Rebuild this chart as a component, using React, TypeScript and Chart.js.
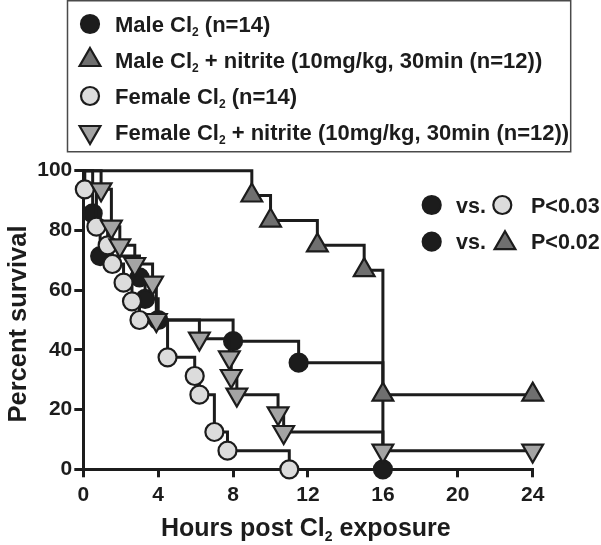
import React, { useEffect, useRef } from 'react';
import { Chart, registerables } from 'chart.js';

Chart.register(...registerables);

// ---------- data ----------
const xTickValues = [0, 4, 8, 12, 16, 20, 24];
const yTickValues = [0, 20, 40, 60, 80, 100];

const maleCl2Hours = [0, 0.5, 0.9, 3.0, 3.3, 4.0, 8.0, 11.5, 16];
const maleCl2Survival = [100, 85.7, 71.4, 64.3, 57.1, 50, 42.9, 35.7, 0];

const maleNitriteHours = [0, 9, 10, 12.5, 15, 16, 24];
const maleNitriteSurvival = [100, 91.7, 83.3, 75, 66.7, 25, 25];

const femaleCl2Hours = [0, 0.08, 0.7, 1.3, 1.55, 2.15, 2.6, 3.0, 4.5, 5.95, 6.2, 7.0, 7.7, 11];
const femaleCl2Survival = [100, 93.75, 81.25, 75, 68.75, 62.5, 56.25, 50, 37.5, 31.25, 25, 12.5, 6.25, 0];

const femaleNitriteHours = [0, 0.95, 1.5, 1.95, 2.75, 3.7, 3.9, 6.2, 7.8, 7.9, 8.2, 10.4, 10.7, 16, 24];
const femaleNitriteSurvival = [100, 93.75, 81.25, 75, 68.75, 62.5, 50, 43.75, 37.5, 31.25, 25, 18.75, 12.5, 6.25, 6.25];

const seriesLabels = [
  'Male Cl₂ (n=14)',
  'Male Cl₂ + nitrite (10mg/kg, 30min (n=12))',
  'Female Cl₂ (n=14)',
  'Female Cl₂ + nitrite (10mg/kg, 30min (n=12))',
];
const pValueLabels = ['P<0.03', 'P<0.02'];
const xAxisTitle = 'Hours post Cl₂ exposure';
const yAxisTitle = 'Percent survival';

// ---------- styles ----------
const FONT = '"Liberation Sans", Arial, Helvetica, sans-serif';
const INK = '#1c1c1c';
const styles = [
  { fill: '#1c1c1c', shape: 'circle', rot: 0, r: 9 },
  { fill: '#6f6f6f', shape: 'triangle', rot: 0, r: 12 },
  { fill: '#dcdcdc', shape: 'circle', rot: 0, r: 9 },
  { fill: '#a4a4a4', shape: 'triangle', rot: 180, r: 12 },
];

function toPoints(xs: number[], ys: number[]) {
  return xs.map((x, i) => ({ x, y: ys[i] }));
}

function drawMarker(ctx: CanvasRenderingContext2D, idx: number, x: number, y: number) {
  const s = styles[idx];
  ctx.save();
  ctx.fillStyle = s.fill;
  ctx.strokeStyle = INK;
  ctx.lineWidth = 2.2;
  ctx.beginPath();
  if (s.shape === 'circle') {
    ctx.arc(x, y, s.r, 0, Math.PI * 2);
  } else {
    let rad = (s.rot * Math.PI) / 180;
    const r = s.r;
    ctx.moveTo(x + Math.sin(rad) * r, y - Math.cos(rad) * r);
    rad += (2 * Math.PI) / 3;
    ctx.lineTo(x + Math.sin(rad) * r, y - Math.cos(rad) * r);
    rad += (2 * Math.PI) / 3;
    ctx.lineTo(x + Math.sin(rad) * r, y - Math.cos(rad) * r);
    ctx.closePath();
  }
  ctx.fill();
  ctx.stroke();
  ctx.restore();
}

// text where '₂' is drawn as a small lowered "2"
function richParts(text: string) {
  const parts: { t: string; sub: boolean }[] = [];
  const segs = text.split('₂');
  segs.forEach((seg, i) => {
    if (seg) parts.push({ t: seg, sub: false });
    if (i < segs.length - 1) parts.push({ t: '2', sub: true });
  });
  return parts;
}
function richWidth(ctx: CanvasRenderingContext2D, text: string, size: number) {
  let w = 0;
  for (const p of richParts(text)) {
    ctx.font = `bold ${p.sub ? Math.round(size * 0.55) : size}px ${FONT}`;
    w += ctx.measureText(p.t).width;
  }
  return w;
}
function drawRich(ctx: CanvasRenderingContext2D, text: string, x: number, baseline: number, size: number) {
  let cx = x;
  ctx.textAlign = 'left';
  ctx.textBaseline = 'alphabetic';
  for (const p of richParts(text)) {
    ctx.font = `bold ${p.sub ? Math.round(size * 0.55) : size}px ${FONT}`;
    ctx.fillText(p.t, cx, p.sub ? baseline + size * 0.2 : baseline);
    cx += ctx.measureText(p.t).width;
  }
}

const decorPlugin = {
  id: 'decor',
  afterDraw(chart: any) {
    const ctx: CanvasRenderingContext2D = chart.ctx;
    ctx.save();
    ctx.fillStyle = INK;

    // legend box
    ctx.strokeStyle = '#4a4a4a';
    ctx.lineWidth = 1.5;
    ctx.strokeRect(67.5, 0.75, 503.2, 151);
    const rowY = [24, 60, 96, 132];
    seriesLabels.forEach((lab, i) => {
      drawMarker(ctx, i, 90, rowY[i]);
      ctx.fillStyle = INK;
      drawRich(ctx, lab, 115, rowY[i] + 8, 22);
    });

    // p-value annotations
    const annY = [205, 241.7];
    const compare = [2, 1];
    annY.forEach((y, i) => {
      drawMarker(ctx, 0, 431.7, y);
      ctx.fillStyle = INK;
      ctx.font = `bold 21.5px ${FONT}`;
      ctx.textAlign = 'left';
      ctx.textBaseline = 'alphabetic';
      ctx.fillText('vs.', 456, y + 7.5);
      drawMarker(ctx, compare[i], i === 0 ? 502.3 : 505, i === 0 ? y : y + 1.5);
      ctx.fillStyle = INK;
      ctx.font = `bold 21.5px ${FONT}`;
      ctx.fillText(pValueLabels[i], 531, y + 7.5);
    });

    // x axis title
    const w = richWidth(ctx, xAxisTitle, 25);
    ctx.fillStyle = INK;
    drawRich(ctx, xAxisTitle, 305.8 - w / 2, 535.5, 25);

    // y axis title
    ctx.save();
    ctx.translate(25.5, 324);
    ctx.rotate(-Math.PI / 2);
    ctx.font = `bold 25.5px ${FONT}`;
    ctx.textAlign = 'center';
    ctx.textBaseline = 'alphabetic';
    ctx.fillStyle = INK;
    ctx.fillText(yAxisTitle, 0, 0);
    ctx.restore();

    ctx.restore();
  },
};

function makeDataset(idx: number, xs: number[], ys: number[], order: number) {
  const s = styles[idx];
  return {
    label: seriesLabels[idx],
    data: toPoints(xs, ys),
    stepped: 'before' as const,
    borderColor: INK,
    borderWidth: 3,
    backgroundColor: s.fill,
    pointBackgroundColor: s.fill,
    pointBorderColor: INK,
    pointBorderWidth: 2.2,
    pointStyle: s.shape,
    pointRotation: s.rot,
    pointRadius: xs.map((_, i) => (i === 0 ? 0 : s.r)),
    pointHoverRadius: xs.map((_, i) => (i === 0 ? 0 : s.r)),
    fill: false,
    clip: false as any,
    order,
  };
}

export default function App() {
  const ref = useRef<HTMLCanvasElement>(null);
  useEffect(() => {
    if (!ref.current) return;
    const chart = new Chart(ref.current, {
      type: 'line',
      data: {
        datasets: [
          makeDataset(0, maleCl2Hours, maleCl2Survival, 4),
          makeDataset(1, maleNitriteHours, maleNitriteSurvival, 3),
          makeDataset(2, femaleCl2Hours, femaleCl2Survival, 2),
          makeDataset(3, femaleNitriteHours, femaleNitriteSurvival, 1),
        ] as any,
      },
      options: {
        animation: false,
        responsive: false,
        devicePixelRatio: 1,
        layout: { padding: { top: 170.7, right: 68.3, left: 0, bottom: 0 } },
        plugins: { legend: { display: false }, tooltip: { enabled: false } },
        scales: {
          x: {
            type: 'linear',
            min: 0,
            max: 24,
            afterFit(scale: any) {
              scale.height = 545 - 469.3;
            },
            afterBuildTicks(scale: any) {
              scale.ticks = xTickValues.map((v) => ({ value: v }));
            },
            border: { display: true, color: INK, width: 3 },
            grid: { display: true, drawOnChartArea: false, drawTicks: true, tickLength: 8, color: INK, lineWidth: 3 },
            ticks: { color: INK, font: { family: FONT, size: 21, weight: 'bold' }, padding: 5, maxRotation: 0 },
          },
          y: {
            type: 'linear',
            min: 0,
            max: 100,
            afterFit(scale: any) {
              scale.width = 83.3;
            },
            afterBuildTicks(scale: any) {
              scale.ticks = yTickValues.map((v) => ({ value: v }));
            },
            border: { display: true, color: INK, width: 3 },
            grid: { display: true, drawOnChartArea: false, drawTicks: true, tickLength: 9, color: INK, lineWidth: 3 },
            ticks: { color: INK, font: { family: FONT, size: 21, weight: 'bold' }, padding: 2 },
          },
        },
      } as any,
      plugins: [decorPlugin],
    });
    return () => chart.destroy();
  }, []);
  return (
    <div style={{ position: 'absolute', left: 0, top: 0, width: 601, height: 545, background: '#fff' }}>
      <canvas ref={ref} width={601} height={545} style={{ display: 'block', width: 601, height: 545 }} />
    </div>
  );
}
